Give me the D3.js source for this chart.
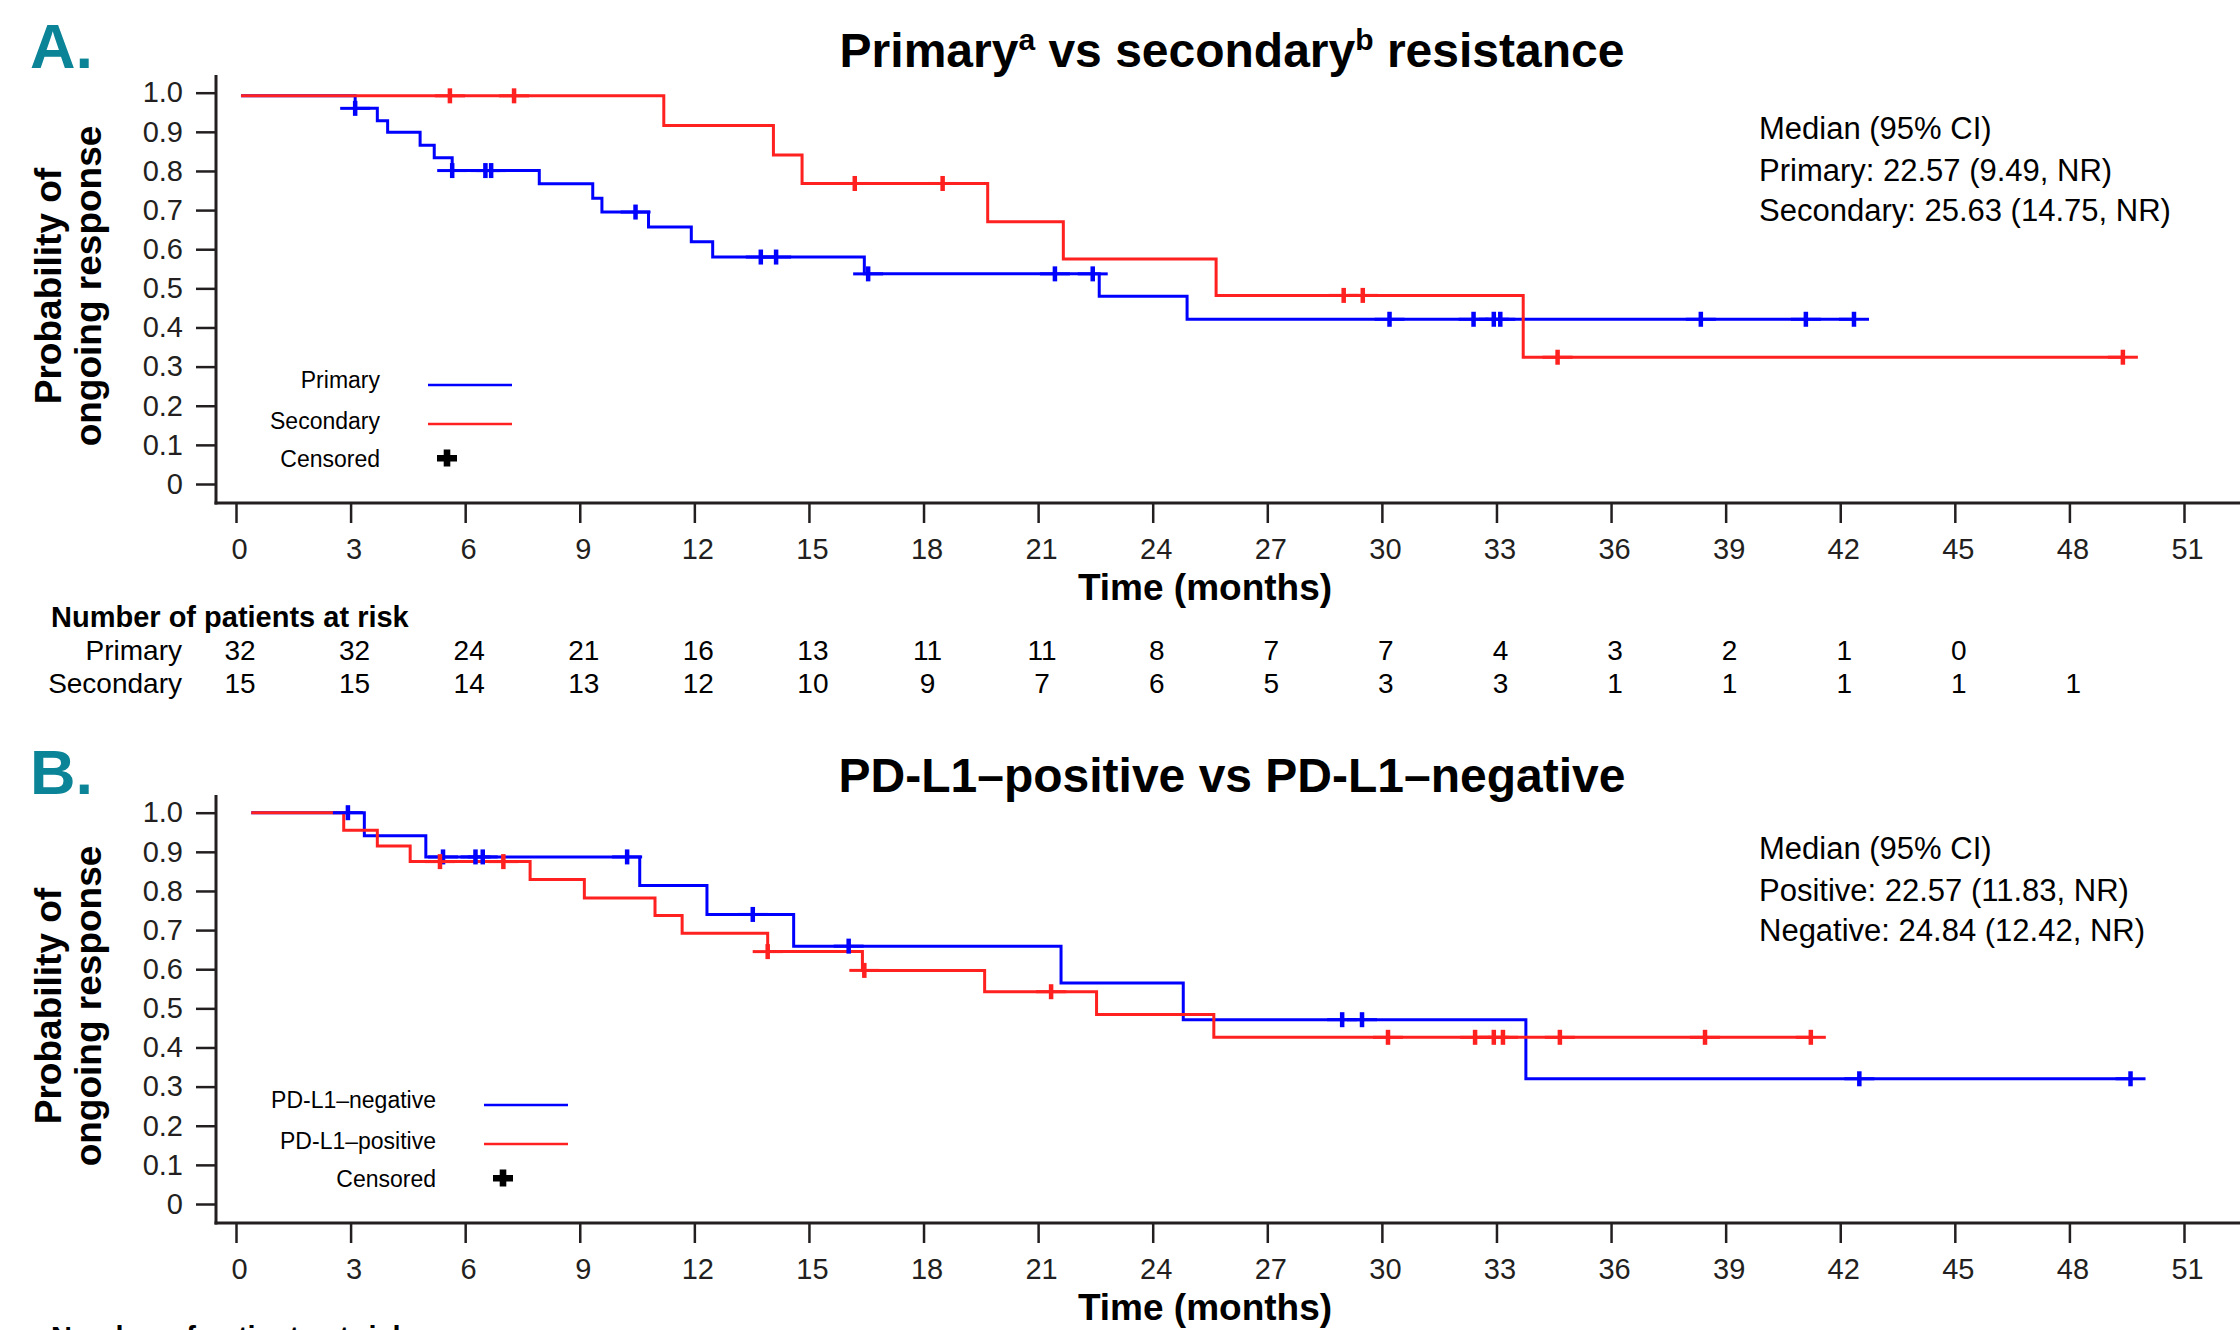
<!DOCTYPE html>
<html><head><meta charset="utf-8">
<script src="https://cdn.jsdelivr.net/npm/d3@7"></script>
<style>
body{margin:0;background:#fff}
svg{display:block}
text{font-family:'Liberation Sans',Arial,Helvetica,sans-serif}
</style>
</head><body>
<svg id="chart" width="2240" height="1330"></svg>
<script>
// ---------- data ----------
const months = [0,3,6,9,12,15,18,21,24,27,30,33,36,39,42,45,48,51];
const yTickValues = [0,0.1,0.2,0.3,0.4,0.5,0.6,0.7,0.8,0.9,1.0];
const yTickLabels = ["0","0.1","0.2","0.3","0.4","0.5","0.6","0.7","0.8","0.9","1.0"];

// Panel A: primary vs secondary resistance
const primaryTimes = [0.13,3.12,3.70,3.97,4.82,5.19,5.66,7.94,9.34,9.58,10.80,11.92,12.48,16.45,22.60,24.90,42.36];
const primarySurv  = [0.992,0.960,0.928,0.899,0.866,0.834,0.801,0.767,0.730,0.695,0.657,0.619,0.580,0.537,0.480,0.421,0.421];
const primaryCensor = [3.12,5.66,6.53,6.68,10.46,13.74,14.14,16.55,21.44,22.43,30.2,32.4,32.93,33.1,38.35,41.1,42.36];

const secondaryTimes = [0.13,11.20,14.07,14.82,19.68,21.66,25.66,33.70,49.40];
const secondarySurv  = [0.992,0.916,0.841,0.768,0.670,0.575,0.482,0.324,0.324];
const secondaryCensor = [5.6,7.28,16.2,18.5,29.0,29.5,34.6,49.4];

const atRiskPrimary   = [32,32,24,21,16,13,11,11,8,7,7,4,3,2,1,0];
const atRiskSecondary = [15,15,14,13,12,10,9,7,6,5,3,3,1,1,1,1,1];

const medianA = ["Median (95% CI)","Primary: 22.57 (9.49, NR)","Secondary: 25.63 (14.75, NR)"];
const legendA = ["Primary","Secondary","Censored"];

// Panel B: PD-L1-positive vs PD-L1-negative
const negTimes = [0.4,3.36,4.97,10.57,12.33,14.60,21.60,24.80,33.77,49.60];
const negSurv  = [1.0,0.941,0.887,0.814,0.740,0.659,0.5645,0.471,0.320,0.320];
const negCensor = [2.93,5.42,6.27,6.46,10.24,13.53,16.04,28.96,29.48,42.5,49.6];

const posTimes = [0.4,2.82,3.70,4.56,7.70,9.12,10.97,11.68,13.92,16.40,19.60,22.53,25.60,41.23];
const posSurv  = [1.0,0.955,0.915,0.875,0.829,0.782,0.737,0.692,0.645,0.597,0.5425,0.484,0.426,0.426];
const posCensor = [5.34,7.0,13.92,16.45,21.34,30.16,32.44,32.93,33.17,34.66,38.46,41.23];

const medianB = ["Median (95% CI)","Positive: 22.57 (11.83, NR)","Negative: 24.84 (12.42, NR)"];
const legendB = ["PD-L1\u2013negative","PD-L1\u2013positive","Censored"];

// ---------- drawing ----------
const BLUE = "#0000ff", RED = "#ff2020", TEAL = "#0a8496", AX = "#231f20";
const svg = d3.select("#chart");
const x = d3.scaleLinear().domain([0,51]).range([236,2184]);

function survAt(times, surv, t){
  let v = surv[0];
  for (let i=0;i<times.length;i++){ if (times[i] <= t + 1e-9) v = surv[i]; }
  return v;
}

function panel(o){
  const oy = o.oy;
  const g = svg.append("g");
  const y = d3.scaleLinear().domain([0,1]).range([484+oy, 92.7+oy]);

  // panel letter
  g.append("text").attr("x",30).attr("y",o.letterY).attr("font-size",63).attr("font-weight","bold")
    .attr("fill",TEAL).text(o.letter);

  // title
  const t = g.append("text").attr("x",1232).attr("y",o.titleY).attr("text-anchor","middle")
    .attr("font-size",48).attr("font-weight","bold").attr("fill","#000");
  o.title(t);

  // axes lines
  g.append("line").attr("x1",216).attr("x2",216).attr("y1",75+oy).attr("y2",504.5+oy)
    .attr("stroke",AX).attr("stroke-width",3);
  g.append("line").attr("x1",214.5).attr("x2",2240).attr("y1",503+oy).attr("y2",503+oy)
    .attr("stroke",AX).attr("stroke-width",3);

  const ya = g.append("g").attr("transform","translate(216,0)")
    .call(d3.axisLeft(y).tickValues(yTickValues).tickFormat((d,i)=>yTickLabels[i]).tickSize(20).tickPadding(13));
  ya.select(".domain").remove();
  ya.selectAll("line").attr("stroke",AX).attr("stroke-width",2.5);
  ya.selectAll("text").attr("font-size",29).attr("fill",AX).attr("font-family","'Liberation Sans',Arial,sans-serif");

  const xa = g.append("g").attr("transform",`translate(0,${503+oy})`)
    .call(d3.axisBottom(x).tickValues(months).tickFormat(d=>String(d)).tickSize(20).tickPadding(15));
  xa.select(".domain").remove();
  xa.selectAll("line").attr("stroke",AX).attr("stroke-width",2.5);
  xa.selectAll("text").attr("font-size",29).attr("fill",AX).attr("x",3).attr("font-family","'Liberation Sans',Arial,sans-serif");

  // axis titles
  const yt = g.append("text").attr("transform",`translate(0,${286+oy}) rotate(-90)`)
    .attr("text-anchor","middle").attr("font-size",37).attr("font-weight","bold").attr("fill","#000");
  yt.append("tspan").attr("x",0).attr("y",61).text("Probability of");
  yt.append("tspan").attr("x",0).attr("y",101).text("ongoing response");

  g.append("text").attr("x",1205).attr("y",600+oy).attr("text-anchor","middle")
    .attr("font-size",37).attr("font-weight","bold").attr("fill","#000").text("Time (months)");

  // curves
  const line = d3.line().x(d=>x(d[0])).y(d=>y(d[1])).curve(d3.curveStepAfter);
  o.series.forEach(s=>{
    const pts = s.times.map((tt,i)=>[tt,s.surv[i]]);
    g.append("path").attr("d",line(pts)).attr("fill","none").attr("stroke",s.color)
      .attr("stroke-width",3).attr("stroke-linejoin","miter");
  });
  o.series.forEach(s=>{
    const cg = g.append("g");
    s.censor.forEach(c=>{
      const cx = x(c), cy = y(survAt(s.times,s.surv,c));
      cg.append("rect").attr("x",cx-15).attr("y",cy-1.5).attr("width",30).attr("height",3).attr("fill",s.color);
      cg.append("rect").attr("x",cx-2.25).attr("y",cy-7.5).attr("width",4.5).attr("height",15).attr("fill",s.color);
    });
  });

  // legend
  const lx = o.legendDx;
  o.legend.forEach((lab,i)=>{
    g.append("text").attr("x",380+lx).attr("y",[388,429,467][i]+oy).attr("text-anchor","end")
      .attr("font-size",23).attr("fill","#000").text(lab);
  });
  g.append("line").attr("x1",428+lx).attr("x2",512+lx).attr("y1",385+oy).attr("y2",385+oy)
    .attr("stroke",o.series[0].color).attr("stroke-width",2.5);
  g.append("line").attr("x1",428+lx).attr("x2",512+lx).attr("y1",424+oy).attr("y2",424+oy)
    .attr("stroke",o.series[1].color).attr("stroke-width",2.5);
  g.append("rect").attr("x",437+lx).attr("y",455+oy).attr("width",20).attr("height",6.5).attr("fill","#000");
  g.append("rect").attr("x",443.7+lx).attr("y",449.5+oy).attr("width",6.6).attr("height",17).attr("fill","#000");

  // medians
  o.median.forEach((m,i)=>{
    g.append("text").attr("x",1759).attr("y",[139,181,221][i]+oy).attr("font-size",31)
      .attr("fill","#000").text(m);
  });

  // number at risk
  g.append("text").attr("x",51).attr("y",627+oy).attr("font-size",29).attr("font-weight","bold")
    .attr("fill","#000").text("Number of patients at risk");
  o.risk.forEach((r,ri)=>{
    const ry = [660,693][ri]+oy;
    g.append("text").attr("x",182).attr("y",ry).attr("text-anchor","end").attr("font-size",28)
      .attr("fill","#000").text(r.label);
    r.values.forEach((v,i)=>{
      g.append("text").attr("x",x(months[i])+4).attr("y",ry).attr("text-anchor","middle")
        .attr("font-size",28).attr("fill","#000").text(v);
    });
  });
}

panel({
  oy:0, letter:"A.", letterY:68, titleY:67, legendDx:0,
  title:(t)=>{
    t.append("tspan").text("Primary");
    t.append("tspan").attr("font-size",30).attr("dy",-17).text("a");
    t.append("tspan").attr("dy",17).text(" vs secondary");
    t.append("tspan").attr("font-size",30).attr("dy",-17).text("b");
    t.append("tspan").attr("dy",17).text(" resistance");
  },
  series:[
    {times:primaryTimes, surv:primarySurv, censor:primaryCensor, color:BLUE},
    {times:secondaryTimes, surv:secondarySurv, censor:secondaryCensor, color:RED}
  ],
  legend:legendA, median:medianA,
  risk:[{label:"Primary",values:atRiskPrimary},{label:"Secondary",values:atRiskSecondary}]
});

panel({
  oy:720, letter:"B.", letterY:794, titleY:792, legendDx:56,
  title:(t)=>{ t.text("PD-L1\u2013positive vs PD-L1\u2013negative"); },
  series:[
    {times:negTimes, surv:negSurv, censor:negCensor, color:BLUE},
    {times:posTimes, surv:posSurv, censor:posCensor, color:RED}
  ],
  legend:legendB, median:medianB,
  risk:[]
});
</script>
</body></html>
